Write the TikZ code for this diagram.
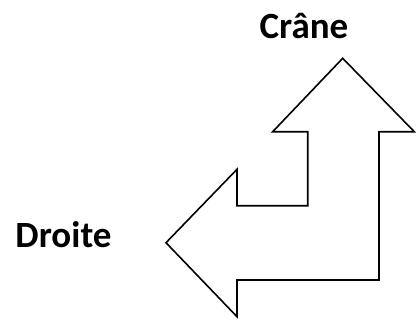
\documentclass[tikz,border=0pt]{standalone}
\usepackage{fontspec}
\setmainfont{Carlito}
\usetikzlibrary{math}
\usetikzlibrary{calc}

\begin{document}
\begin{tikzpicture}[x=1pt,y=-1pt,line width=1.6pt,line join=miter,
  dirtext/.style={font=\fontsize{37}{42}\selectfont\bfseries, inner sep=0pt, anchor=base}]

  \tikzmath{
    \tipx      = 342.7; % tip of the upward arrow
    \tipy      = 58.3;
    \headup    = 131.7; % base line of the upward head
    \shaftl    = 307.7; % left side of the vertical shaft
    \shaftr    = 379;   % right side of the vertical shaft
    \bendin    = 205.7; % inner corner of the bend
    \bendout   = 280;   % lower side of the horizontal shaft
    \headleft  = 237;   % base line of the left head
  }

  \useasboundingbox (0,0) rectangle (416,322);

  % Tips of the bent arrow
  \coordinate (T) at (\tipx, \tipy);
  \coordinate (L) at (166, 242.7);

  % Bent double arrow
  \draw (T) -- (414.3, \headup) -- (\shaftr, \headup) -- (\shaftr, \bendout)
    -- (\headleft, \bendout) -- (\headleft, 316.7) -- (L)
    -- (\headleft, 169.3) -- (\headleft, \bendin) -- (\shaftl, \bendin)
    -- (\shaftl, \headup) -- (272.7, \headup) -- cycle;

  % Directions
  \node[dirtext] (crane) at (304, 38.3) {Crâne};
  \node[dirtext] (droite) at (63.5, 247.5) {Droite};

\end{tikzpicture}
\end{document}
